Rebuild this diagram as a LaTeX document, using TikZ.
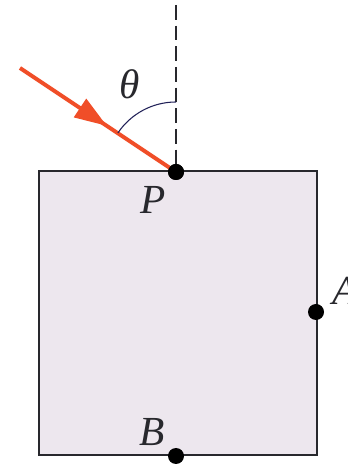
\documentclass[tikz,border=0pt]{standalone}
\usepackage{fontspec}
\setmainfont{Liberation Serif}
\usetikzlibrary{calc}
\definecolor{boxfill}{RGB}{237,231,238}
\definecolor{raycol}{RGB}{240,78,40}
\definecolor{edgecol}{RGB}{40,40,45}
\tikzset{
  lbl/.style={font=\fontsize{31}{36}\selectfont\itshape, inner sep=0pt, text=edgecol},
  pt/.style={circle, fill=black, minimum size=16*0.75pt, inner sep=0pt},
  ray/.style={raycol, line width=3pt},
}
\begin{document}
\begin{tikzpicture}[x=0.75pt,y=0.75pt]
\useasboundingbox (0,0) rectangle (347,466);
\node[draw=edgecol, line width=1.6pt, fill=boxfill, minimum width=278*0.75pt, minimum height=284*0.75pt, inner sep=0pt, anchor=south west] (box) at (38,10) {};
\coordinate (top) at (176,461);
\coordinate (S) at (20,398);
\node[pt] (P) at (176,294) {};
\node[pt] (A) at (316,154) {};
\node[pt] (B) at (176,10) {};
\draw[edgecol, line width=1.5pt, dash pattern=on 11pt off 4.5pt] (top) -- (P.center);
\draw[ray] (S) -- (P.center);
\coordinate (T) at ($(S)!0.555!(P.center)$);
\coordinate (Bc) at ($(T)!32*0.75pt!(S)$);
\fill[raycol] (T) -- ($(Bc)!8.5pt!90:(T)$) -- ($(Bc)!8.5pt!-90:(T)$) -- cycle;
\draw[edgecol!80!blue, line width=0.8pt] ($(P.center)+(0,70)$) arc[start angle=90, end angle=146.06, radius=70];
\node[pt] at (P) {};
\node[lbl] (theta) at (130,382) {θ};
\node[lbl] (Pl) at (153,266) {P};
\node[lbl] (Bl) at (152,34) {B};
\node[lbl, anchor=west] (Al) at (332,175) {A};
\end{tikzpicture}
\end{document}
